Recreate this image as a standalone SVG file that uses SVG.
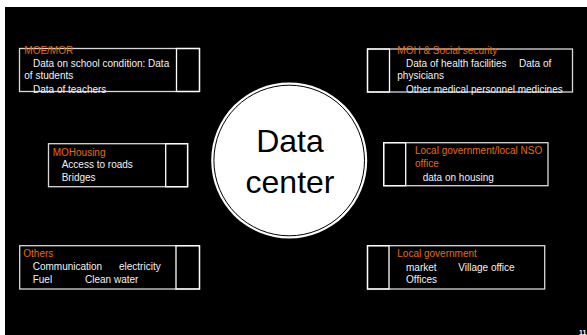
<svg xmlns="http://www.w3.org/2000/svg" width="587" height="335" viewBox="0 0 587 335">
<style>
.box{fill:none;stroke:#d9d9d9;stroke-width:1.3}
.sq{fill:none;stroke:#ffffff;stroke-width:1.3}
.t{font-family:"Liberation Sans",Arial,sans-serif;font-size:10px;fill:#f2f2f2}
.h{font-family:"Liberation Sans",Arial,sans-serif;font-size:10px;fill:#e46c0a}
.c{font-family:"Liberation Sans",Arial,sans-serif;font-size:32px;fill:#000000;text-anchor:middle}
</style>
<rect x="5" y="7" width="582" height="328" fill="#000000"/>
<g id="connectors"></g>
<g id="moe">
<rect class="box" x="19.5" y="48.5" width="180" height="43"/>
<rect class="sq" x="176.5" y="48.5" width="23" height="43"/>
<text class="h" x="24.3" y="54.3">MOE/MOR</text>
<text class="t" x="33" y="66.7">Data on school condition: Data</text>
<text class="t" x="24.3" y="79.3">of students</text>
<text class="t" x="33" y="92.5">Data of teachers</text>
</g>
<g id="moh">
<rect class="box" x="367.5" y="49" width="205" height="43"/>
<rect class="sq" x="367.5" y="49" width="22" height="43"/>
<text class="h" x="397.3" y="54.3">MOH &amp; Social security</text>
<text class="t" x="406" y="66.7">Data of health facilities</text>
<text class="t" x="519" y="66.7">Data of</text>
<text class="t" x="397.3" y="79.3">physicians</text>
<text class="t" x="406" y="92.5">Other medical personnel medicines</text>
</g>
<g id="mohousing">
<rect class="box" x="48.5" y="143.7" width="139" height="43"/>
<rect class="sq" x="165.7" y="143.7" width="22" height="43"/>
<text class="h" x="52.7" y="156">MOHousing</text>
<text class="t" x="61.7" y="168">Access to roads</text>
<text class="t" x="61.7" y="181">Bridges</text>
</g>
<g id="localnso">
<rect class="box" x="383.7" y="142.7" width="164.3" height="43"/>
<rect class="sq" x="383.7" y="142.7" width="22" height="43"/>
<text class="h" x="415" y="154">Local government/local NSO</text>
<text class="h" x="415" y="166.7">office</text>
<text class="t" x="422.7" y="180.7">data on housing</text>
</g>
<g id="others">
<rect class="box" x="19.7" y="245.7" width="179.8" height="43.3"/>
<rect class="sq" x="176" y="245.7" width="23.5" height="43.3"/>
<text class="h" x="23.3" y="257">Others</text>
<text class="t" x="32.7" y="270">Communication</text>
<text class="t" x="119" y="270">electricity</text>
<text class="t" x="32.7" y="283.3">Fuel</text>
<text class="t" x="85" y="283.3">Clean water</text>
</g>
<g id="localgov">
<rect class="box" x="367.5" y="245.7" width="177.2" height="43.3"/>
<rect class="sq" x="367.5" y="245.7" width="21.5" height="43.3"/>
<text class="h" x="397.3" y="257.3">Local government</text>
<text class="t" x="406" y="270.7">market</text>
<text class="t" x="458.3" y="270.7">Village office</text>
<text class="t" x="406" y="283.3">Offices</text>
</g>
<g id="datacenter">
<circle cx="289.2" cy="160.5" r="78" fill="#ffffff"/>
<circle cx="289.2" cy="160.5" r="75.3" fill="#ffffff" stroke="#000000" stroke-width="1"/>
<text class="c" x="290" y="151.7">Data</text>
<text class="c" x="290" y="193.3">center</text>
</g>
<text x="579" y="335" font-family="Liberation Sans,Arial,sans-serif" font-size="7" font-weight="bold" fill="#ffffff">11</text>
</svg>
